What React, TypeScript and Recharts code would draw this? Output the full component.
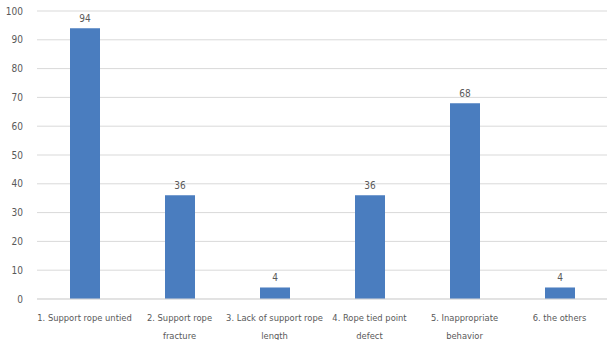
import { BarChart, Bar, XAxis, YAxis, CartesianGrid, LabelList } from "recharts"

const categories = [
  "1. Support rope untied",
  "2. Support rope fracture",
  "3. Lack of support rope length",
  "4. Rope tied point defect",
  "5. Inappropriate behavior",
  "6. the others",
]
const categoryLines = [
  ["1. Support rope untied"],
  ["2. Support rope", "fracture"],
  ["3. Lack of support rope", "length"],
  ["4. Rope tied point", "defect"],
  ["5. Inappropriate", "behavior"],
  ["6. the others"],
]
const counts = [94, 36, 4, 36, 68, 4]
const yTicks = [0, 10, 20, 30, 40, 50, 60, 70, 80, 90, 100]

const font = "'DejaVu Sans Condensed', 'Liberation Sans Narrow', sans-serif"
const textColor = "#595959"

function CategoryTick({ x, y, index }: any) {
  const lines = categoryLines[index] || []
  return (
    <text x={x} y={y} textAnchor="middle" fill={textColor} fontSize={9.3} fontFamily={font} style={{ fontStretch: "condensed" }}>
      {lines.map((l, i) => (
        <tspan key={i} x={x} dy={i === 0 ? 14 : 18}>
          {l}
        </tspan>
      ))}
    </text>
  )
}

export default function App() {
  const data = categories.map((name, i) => ({ name, value: counts[i] }))

  return (
    <div style={{ position: "absolute", left: 0, top: 0, width: 609, height: 340, background: "#fff" }}>
      <BarChart width={609} height={340} data={data} margin={{ top: 11, right: 2, bottom: 0, left: 0 }} barSize={30}>
        <CartesianGrid vertical={false} stroke="#d9d9d9" />
        <XAxis dataKey="name" height={41} axisLine={{ stroke: "#d9d9d9" }} tickLine={false} interval={0} tick={<CategoryTick />} />
        <YAxis
          width={37}
          domain={[0, 100]}
          ticks={yTicks}
          axisLine={false}
          tickLine={false}
          tick={{ fill: textColor, fontSize: 10, fontFamily: font }}
          tickMargin={8}
        />
        <Bar dataKey="value" fill="#4a7dbf" isAnimationActive={false}>
          <LabelList dataKey="value" position="top" offset={6} fill={textColor} fontSize={10} fontFamily={font} />
        </Bar>
      </BarChart>
    </div>
  )
}
